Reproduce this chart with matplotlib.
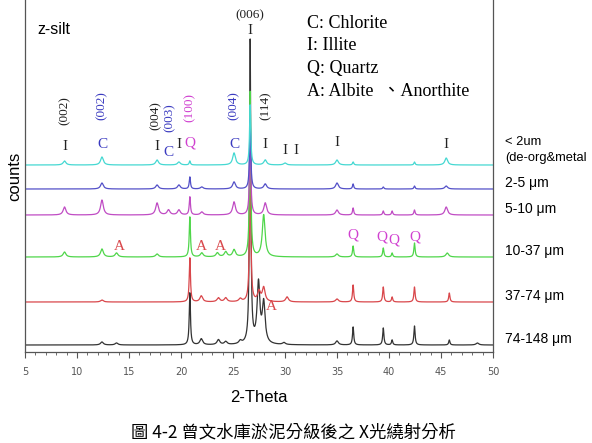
import numpy as np
import matplotlib
matplotlib.use('Agg')
import matplotlib.pyplot as plt

# XRD patterns of the silt size fractions (z-silt), stacked with an offset.
# Each series is a list of (2-theta, peak height above its baseline).
fractions = ['74-148 μm', '37-74 μm', '10-37 μm', '5-10 μm', '2-5 μm', '< 2um\n(de-org&metal']
offsets = [7, 50, 95, 137, 163, 187]
colors = ['#333333', '#d9474b', '#4fd64a', '#c04cc4', '#5350c8', '#45d8d2']

peaks_74_148 = [(12.4, 3), (13.8, 2), (20.85, 52), (21.95, 6), (23.6, 5), (24.3, 3), (25.7, 3),
                (26.65, 303), (27.45, 60), (27.95, 40), (29.9, 2), (35.0, 4), (36.55, 18),
                (39.45, 17), (40.3, 5), (42.45, 19), (45.8, 5), (48.5, 2)]
peaks_37_74 = [(12.4, 2), (20.85, 44), (21.95, 6), (23.6, 4), (24.3, 4), (25.7, 3),
               (26.65, 160), (27.5, 10), (27.95, 14), (30.2, 5), (35.0, 3), (36.55, 17),
               (39.45, 15), (40.3, 5), (42.45, 15), (45.8, 9)]
peaks_10_37 = [(8.8, 5), (12.4, 8), (13.8, 4), (17.7, 3), (20.85, 40), (22.0, 4), (23.5, 4),
               (24.3, 5), (25.1, 7), (26.65, 165), (27.95, 42), (35.0, 3), (36.55, 11),
               (39.45, 9), (40.3, 4), (42.45, 14), (45.6, 4)]
peaks_5_10 = [(8.8, 8), (12.4, 15), (17.7, 12), (18.8, 5), (19.8, 5), (20.85, 18), (22.0, 3),
              (25.1, 13), (26.65, 90), (28.1, 12), (35.0, 5), (36.55, 7), (39.45, 4),
              (40.3, 4), (42.45, 5), (45.5, 8)]
peaks_2_5 = [(12.4, 6), (17.7, 4), (19.8, 4), (20.85, 12), (22.0, 2), (25.1, 7), (26.65, 70),
             (28.1, 5), (35.0, 6), (36.55, 5), (39.45, 2), (42.45, 3), (45.5, 3)]
peaks_lt2 = [(8.8, 4), (12.4, 8), (17.7, 5), (19.8, 3), (20.85, 4), (25.1, 12), (26.65, 60),
             (28.1, 5), (30.0, 2), (35.0, 5), (36.55, 3), (42.45, 3), (45.5, 7)]
all_peaks = [peaks_74_148, peaks_37_74, peaks_10_37, peaks_5_10, peaks_2_5, peaks_lt2]

quartz_lines = [20.85, 26.65, 36.55, 39.45, 40.3, 42.45, 45.8]

two_theta = np.linspace(5, 50, 4501)


def pattern(peaks, base):
    # sum of lorentzian profiles, sharp for quartz, broader for the clays
    y = np.full_like(two_theta, float(base))
    for pos, h in peaks:
        w = 0.07 if min(abs(pos - q) for q in quartz_lines) < 0.05 else 0.16
        y += h / (1.0 + ((two_theta - pos) / w) ** 2)
    return y


fig = plt.figure(figsize=(5.92, 4.43), dpi=100)
ax = fig.add_axes([25 / 592, 91 / 443, 468 / 592, 352 / 443])

for peaks, base, c in zip(all_peaks, offsets, colors):
    ax.plot(two_theta, pattern(peaks, base), color=c, lw=0.9)

ax.set_xlim(5, 50)
ax.set_ylim(0, 352)
ax.set_xticks(range(5, 51, 5))
ax.set_xticks(range(5, 51), minor=True)
ax.set_yticks([])
ax.tick_params(axis='x', which='major', direction='out', length=4, width=0.8,
               colors='#555555', labelsize=7, pad=7)
ax.tick_params(axis='x', which='minor', direction='out', length=2.5, width=0.6, colors='#555555')
for s in ['left', 'right', 'bottom']:
    ax.spines[s].set_color('#555555')
    ax.spines[s].set_linewidth(0.9)
ax.spines['top'].set_visible(False)

ax.set_xlabel('2-Theta', fontsize=12, family='Liberation Sans', labelpad=9)
ax.set_ylabel('counts', fontsize=12, family='Liberation Sans', labelpad=2)

# fraction labels on the right
for lab, base in zip(fractions, offsets):
    if lab.startswith('<'):
        ax.text(1.026, base + 15, lab, transform=ax.get_yaxis_transform(), fontsize=9.3,
                family='Liberation Sans', va='center', ha='left', linespacing=1.45, clip_on=False)
    else:
        ax.text(1.026, base + 6, lab, transform=ax.get_yaxis_transform(), fontsize=10,
                family='Liberation Sans', va='center', ha='left', clip_on=False)

ax.text(6.2, 322, 'z-silt', fontsize=11.5, family='Liberation Sans', va='center')

serif = ['Liberation Serif', 'Noto Sans CJK TC']
legend_lines = ['C: Chlorite', 'I: Illite', 'Q: Quartz', 'A: Albite  、Anorthite']
for i, t in enumerate(legend_lines):
    ax.text(32.1, 329 - 22.7 * i, t, fontsize=13, family=serif, va='center')

# peak identification on the top pattern
c_blue, c_mag, c_red, c_blk = '#3a3ac0', '#d040d0', '#d9474b', '#222222'
ax.text(26.65, 337, '(006)', fontsize=9.5, family=serif, ha='center', va='center', color=c_blk)
ax.text(26.65, 322, 'I', fontsize=11, family=serif, ha='center', va='center', color=c_blk)
letters = [(8.8, 205, 'I', c_blk), (12.4, 207, 'C', c_blue), (17.7, 205, 'I', c_blk),
           (18.8, 200, 'C', c_blue), (19.8, 207, 'I', c_blk), (20.85, 209, 'Q', c_mag),
           (25.1, 208, 'C', c_blue), (28.1, 208, 'I', c_blk), (30.0, 201, 'I', c_blk),
           (31.1, 201, 'I', c_blk), (35.0, 209, 'I', c_blk), (45.5, 207, 'I', c_blk)]
for x, y, t, c in letters:
    ax.text(x, y, t, fontsize=11, family=serif, ha='center', va='center', color=c)
hkl = [(8.8, 241, '(002)', c_blk), (12.4, 246, '(002)', c_blue), (17.6, 236, '(004)', c_blk),
       (18.9, 234, '(003)', c_blue), (20.85, 245, '(100)', c_mag), (25.1, 246, '(004)', c_blue),
       (28.1, 246, '(114)', c_blk)]
for x, y, t, c in hkl:
    ax.text(x, y, t, fontsize=9.5, family=serif, ha='center', va='center', color=c, rotation=90)

# feldspar / quartz marks on the lower patterns
for x, y in [(14.1, 105), (22.0, 105), (23.8, 105), (28.7, 45)]:
    ax.text(x, y, 'A', fontsize=11, family=serif, ha='center', va='center', color=c_red)
for x, y in [(36.55, 117), (39.3, 115), (40.45, 112), (42.45, 115)]:
    ax.text(x, y, 'Q', fontsize=11, family=serif, ha='center', va='center', color=c_mag)

fig.text(293 / 592, (443 - 432) / 443, '圖 4-2 曾文水庫淤泥分級後之 X光繞射分析',
         fontsize=12.5, family=['Noto Sans CJK TC', 'DejaVu Sans'], ha='center', va='center')

fig.savefig('out.png', dpi=100)
